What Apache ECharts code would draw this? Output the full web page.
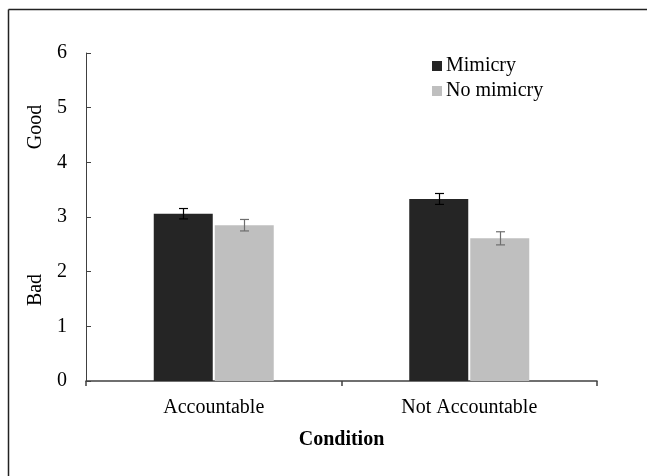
<!DOCTYPE html>
<html>
<head>
<meta charset="utf-8">
<script src="https://cdn.jsdelivr.net/npm/echarts@6/dist/echarts.min.js"></script>
<style>
  html, body { margin: 0; padding: 0; background: #fff; }
  #chart { width: 647px; height: 476px; }
</style>
</head>
<body>
<div id="chart"></div>
<script>
// data
var categories = ["Accountable", "Not Accountable"];
var mimicry = [3.06, 3.33];
var noMimicry = [2.85, 2.61];
var mimicryErr = [0.095, 0.10];
var noMimicryErr = [0.105, 0.12];
var yTicks = [0, 1, 2, 3, 4, 5, 6];

var chart = echarts.init(document.getElementById("chart"));

var font = "'Liberation Serif', 'Times New Roman', serif";
var barW = 59;
var gap = 2;

function errorSeries(values, errs, side, color) {
  var data = values.map(function (v, i) { return [i, v, errs[i]]; });
  return {
    type: "custom",
    silent: true,
    z: 10,
    data: data,
    encode: { x: 0, y: 1 },
    renderItem: function (params, api) {
      var i = api.value(0), v = api.value(1), e = api.value(2);
      var off = side * (barW + gap) / 2;
      var top = api.coord([i, v + e]);
      var bot = api.coord([i, v - e]);
      var x = Math.round(top[0] + off) + 0.5;
      var cap = 4.5;
      var st = { stroke: color, lineWidth: 1.2 };
      return {
        type: "group",
        children: [
          { type: "line", shape: { x1: x, y1: top[1], x2: x, y2: bot[1] }, style: st },
          { type: "line", shape: { x1: x - cap, y1: top[1], x2: x + cap, y2: top[1] }, style: st },
          { type: "line", shape: { x1: x - cap, y1: bot[1], x2: x + cap, y2: bot[1] }, style: st }
        ]
      };
    }
  };
}

var option = {
  animation: false,
  textStyle: { fontFamily: font },
  grid: { left: 86, right: 50, top: 53, bottom: 95, containLabel: false },
  legend: {
    data: ["Mimicry", "No mimicry"],
    orient: "vertical",
    left: 427,
    top: 51,
    itemWidth: 10,
    itemHeight: 10,
    itemGap: 5,
    icon: "rect",
    textStyle: { fontFamily: font, fontSize: 20, color: "#000", padding: [0, 0, 0, -1] }
  },
  xAxis: {
    type: "category",
    data: categories,
    name: "Condition",
    nameLocation: "middle",
    nameGap: 49,
    nameTextStyle: { fontFamily: font, fontSize: 20, fontWeight: "bold", color: "#000" },
    axisLine: { lineStyle: { color: "#404040", width: 1.5 } },
    axisTick: { show: true, length: 5, lineStyle: { color: "#404040", width: 1.5 } },
    axisLabel: { fontFamily: font, fontSize: 20, color: "#000", margin: 17 },
    splitLine: { show: false }
  },
  yAxis: {
    type: "value",
    min: 0,
    max: 6,
    interval: 1,
    axisLine: { show: true, lineStyle: { color: "#404040", width: 1 } },
    axisTick: { show: true, inside: true, length: 5, lineStyle: { color: "#404040" } },
    axisLabel: {
      fontFamily: font, fontSize: 20, color: "#000", margin: 19,
      formatter: function (v) { return yTicks.indexOf(v) >= 0 ? String(v) : ""; }
    },
    splitLine: { show: false }
  },
  series: [
    {
      name: "Mimicry",
      type: "bar",
      data: mimicry,
      barWidth: barW,
      barGap: (gap / barW * 100) + "%",
      itemStyle: { color: "#252525" }
    },
    {
      name: "No mimicry",
      type: "bar",
      data: noMimicry,
      barWidth: barW,
      itemStyle: { color: "#bfbfbf" }
    },
    errorSeries(mimicry, mimicryErr, -1, "#000000"),
    errorSeries(noMimicry, noMimicryErr, 1, "#6e6e6e")
  ],
  graphic: [
    { type: "line", shape: { x1: 8.5, y1: 9.5, x2: 647, y2: 9.5 }, style: { stroke: "#222", lineWidth: 1.5 } },
    { type: "line", shape: { x1: 8.5, y1: 9.5, x2: 8.5, y2: 476 }, style: { stroke: "#222", lineWidth: 1.5 } },
    {
      type: "text", x: 36, y: 127, rotation: Math.PI / 2,
      style: { text: "Good", font: "20px " + font, fill: "#000", textAlign: "center", textVerticalAlign: "middle" }
    },
    {
      type: "text", x: 36, y: 290, rotation: Math.PI / 2,
      style: { text: "Bad", font: "20px " + font, fill: "#000", textAlign: "center", textVerticalAlign: "middle" }
    }
  ]
};

chart.setOption(option);
</script>
</body>
</html>
